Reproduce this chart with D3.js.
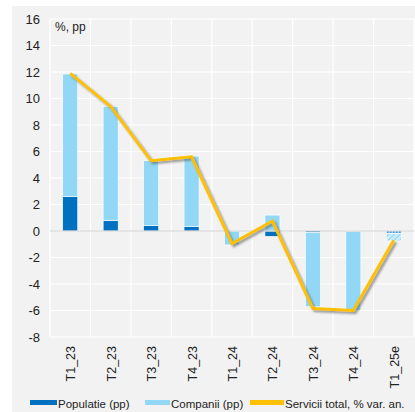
<!DOCTYPE html>
<html>
<head>
<meta charset="utf-8">
<script src="https://d3js.org/d3.v7.min.js"></script>
<style>
  body { margin: 0; background: #fff; }
  svg text { font-family: "Liberation Sans", Arial, sans-serif; fill: #222; }
</style>
</head>
<body>
<script>
// data
const categories = ["T1_23", "T2_23", "T3_23", "T4_23", "T1_24", "T2_24", "T3_24", "T4_24", "T1_25e"];
const populatie = [2.6, 0.8, 0.4, 0.35, -0.05, -0.4, -0.12, -0.05, -0.2];
const companii  = [9.25, 8.6, 4.9, 5.3, -1.0, 1.2, -5.6, -5.95, -0.55];
const total     = [11.9, 9.4, 5.3, 5.6, -0.95, 0.75, -5.85, -6.0, -0.7];
const yTicks = [-8, -6, -4, -2, 0, 2, 4, 6, 8, 10, 12, 14, 16];

const W = 415, H = 412;
const plot = { left: 50, right: 414, top: 19, bottom: 337 };

const svg = d3.select("body").append("svg")
  .attr("width", W).attr("height", H);

// gray panel
svg.append("rect").attr("x", 12).attr("y", 6).attr("width", W - 12).attr("height", H - 6)
  .attr("fill", "#f2f2f2");

const defs = svg.append("defs");
const sh = defs.append("filter").attr("id", "shadow")
  .attr("x", "-10%").attr("y", "-10%").attr("width", "120%").attr("height", "120%");
sh.append("feDropShadow").attr("dx", 2).attr("dy", 2).attr("stdDeviation", 1.2)
  .attr("flood-color", "#555").attr("flood-opacity", 0.6);

// hatch patterns for the estimate
const hatchLight = defs.append("pattern").attr("id", "hatchLight")
  .attr("patternUnits", "userSpaceOnUse").attr("width", 4).attr("height", 4)
  .attr("patternTransform", "rotate(45)");
hatchLight.append("rect").attr("width", 4).attr("height", 4).attr("fill", "#c8ecfb");
hatchLight.append("line").attr("x1", 0).attr("y1", 0).attr("x2", 0).attr("y2", 4)
  .attr("stroke", "#8fd5f3").attr("stroke-width", 2);
const hatchDark = defs.append("pattern").attr("id", "hatchDark")
  .attr("patternUnits", "userSpaceOnUse").attr("width", 3).attr("height", 3);
hatchDark.append("rect").attr("width", 3).attr("height", 3).attr("fill", "#9cc9ea");
hatchDark.append("rect").attr("width", 1.5).attr("height", 1.5).attr("fill", "#0070c0");

const x = d3.scaleBand().domain(categories).range([plot.left, plot.right]).padding(0);
const y = d3.scaleLinear().domain([-8, 16]).range([plot.bottom, plot.top]);

// grid
svg.append("g").selectAll("line.h").data(yTicks).join("line")
  .attr("x1", plot.left).attr("x2", plot.right)
  .attr("y1", d => y(d)).attr("y2", d => y(d))
  .attr("stroke", "#fff").attr("stroke-width", 1.2);
svg.append("g").selectAll("line.v").data(categories.concat(["end"])).join("line")
  .attr("x1", (d, i) => plot.left + i * x.bandwidth())
  .attr("x2", (d, i) => plot.left + i * x.bandwidth())
  .attr("y1", plot.top).attr("y2", plot.bottom)
  .attr("stroke", "#fff").attr("stroke-width", 1.2);

// y axis labels (plain hyphen minus like the original)
const yAxis = svg.append("g").attr("transform", `translate(${plot.left - 10},0)`)
  .call(d3.axisLeft(y).tickValues(yTicks).tickSize(0).tickPadding(0).tickFormat(d => String(d)));
yAxis.select(".domain").remove();
yAxis.selectAll("text").style("font-size", "13px").attr("fill", "#222");

// stacked bars: positive and negative stacks separately
const barW = 15;
const bars = svg.append("g");
categories.forEach((c, i) => {
  const est = i === categories.length - 1;
  let pos = 0, neg = 0;
  [[populatie[i], est ? "url(#hatchDark)" : "#0070c0"],
   [companii[i], est ? "url(#hatchLight)" : "#92d8f6"]].forEach(([v, fill]) => {
    let y0, y1;
    if (v >= 0) { y0 = pos; y1 = pos + v; pos = y1; }
    else { y0 = neg; y1 = neg + v; neg = y1; }
    bars.append("rect")
      .attr("x", x(c) + (x.bandwidth() - barW) / 2)
      .attr("width", barW)
      .attr("y", y(Math.max(y0, y1)))
      .attr("height", Math.abs(y(y0) - y(y1)))
      .attr("fill", fill)
      .attr("stroke", "#fff").attr("stroke-width", 0.6);
  });
});

// zero line
svg.append("line").attr("x1", plot.left).attr("x2", plot.right)
  .attr("y1", y(0)).attr("y2", y(0))
  .attr("stroke", "#d0d0d0").attr("stroke-width", 1.2);

// total line
const line = d3.line().x((d, i) => x(categories[i]) + x.bandwidth() / 2).y(d => y(d));
svg.append("path").datum(total)
  .attr("d", line)
  .attr("fill", "none")
  .attr("stroke", "#ffc000").attr("stroke-width", 3)
  .attr("stroke-linejoin", "miter")
  .attr("filter", "url(#shadow)");

// unit label
svg.append("text").attr("x", 55).attr("y", 31).text("%, pp").style("font-size", "12px");

// x labels, rotated
svg.append("g").selectAll("text").data(categories).join("text")
  .attr("transform", d => `translate(${x(d) + x.bandwidth() / 2 + 5},${plot.bottom + 9}) rotate(-90)`)
  .attr("text-anchor", "end")
  .style("font-size", "12.5px")
  .text(d => d);

// legend
const legend = [
  { label: "Populatie (pp)", color: "#0070c0", x: 30, w: 27 },
  { label: "Companii (pp)", color: "#92d8f6", x: 145, w: 25 },
  { label: "Servicii total, % var. an.", color: "#ffc000", x: 250, w: 34 }
];
const lg = svg.append("g").selectAll("g").data(legend).join("g")
  .attr("transform", d => `translate(${d.x},403)`);
lg.append("rect").attr("y", -3).attr("height", 5).attr("width", d => d.w).attr("fill", d => d.color);
lg.append("text").attr("x", d => d.w + 1).attr("y", 4.5).style("font-size", "11.5px").text(d => d.label);
</script>
</body>
</html>
